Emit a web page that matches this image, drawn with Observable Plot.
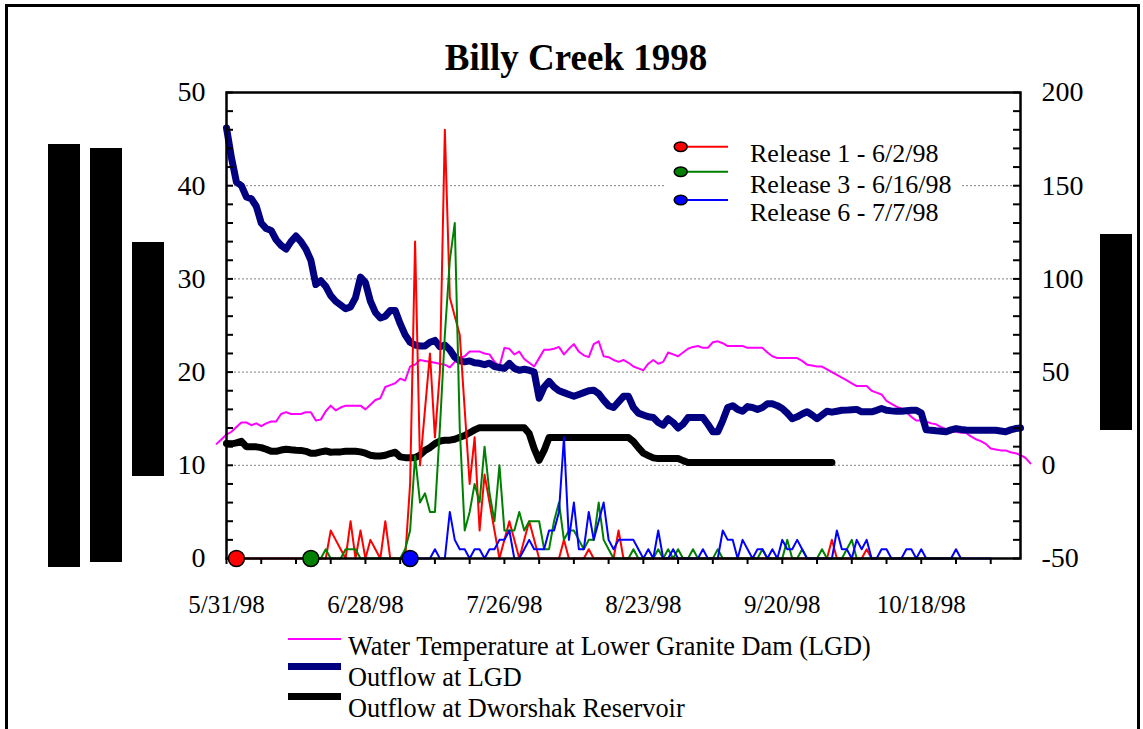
<!DOCTYPE html>
<html>
<head>
<meta charset="utf-8">
<script src="https://cdn.jsdelivr.net/npm/d3@7"></script>
<script src="https://cdn.jsdelivr.net/npm/@observablehq/plot@0.6"></script>
<style>
  body { margin: 0; background: #fff; font-family: "Liberation Serif", "Times New Roman", serif; }
  #wrap { position: relative; width: 1143px; height: 729px; overflow: hidden; background: #fff; }
  #frame { position: absolute; left: 5px; top: 4px; width: 1129px; height: 800px; border: 3px solid #000; box-sizing: content-box; }
  #chart { position: absolute; left: 0; top: 0; }
  .bar { position: absolute; background: #000; }
  #title { position: absolute; left: 0; width: 1152px; top: 39px; text-align: center; font-weight: bold; font-size: 37px; line-height: 37px; }
  .leg { position: absolute; left: 348px; font-size: 26.3px; line-height: 26px; white-space: nowrap; }
  .sw { position: absolute; left: 288px; width: 53px; }
  #inlegend { position: absolute; left: 660px; top: 130px; }
</style>
</head>
<body>
<div id="wrap">
  <div id="frame"></div>
  <div id="chart"></div>
  <div id="title">Billy Creek 1998</div>
  <div class="bar" style="left:48px;top:144px;width:32px;height:423px"></div>
  <div class="bar" style="left:90px;top:148px;width:32px;height:414px"></div>
  <div class="bar" style="left:132px;top:242px;width:32px;height:234px"></div>
  <div class="bar" style="left:1100px;top:234px;width:32px;height:196px"></div>
  <div class="sw" style="top:638px;height:2px;background:#ff00ff"></div>
  <div class="sw" style="top:663px;height:7px;background:#000080"></div>
  <div class="sw" style="top:693px;height:7px;background:#000"></div>
  <div class="leg" style="top:634px">Water Temperature at Lower Granite Dam (LGD)</div>
  <div class="leg" style="top:665px">Outflow at LGD</div>
  <div class="leg" style="top:696px">Outflow at Dworshak Reservoir</div>
  <svg id="inlegend" width="310" height="100"></svg>
</div>
<script>
// ---------------- data ----------------
const xDomain = ["1998-05-31", "1998-11-07"];
const xLabelDates = ["1998-05-31", "1998-06-28", "1998-07-26", "1998-08-23", "1998-09-20", "1998-10-18"];
const xLabels = ["5/31/98", "6/28/98", "7/26/98", "8/23/98", "9/20/98", "10/18/98"];
const leftTickValues = [0, 10, 20, 30, 40, 50];
const rightTickLabels = ["-50", "0", "50", "100", "150", "200"];
const gridValues = [10, 20, 30, 40];

// Water temperature at LGD (left axis), daily from 5/29/98
const tempStart = "1998-05-29";
const waterTemp = [
  12.3, 12.8,
  13.3, 13.6, 14.1, 14.6, 14.6, 14.3, 14.5, 14.2, 14.5, 14.7,
  14.7, 15.5, 15.7, 15.5, 15.5, 15.5, 15.7, 15.7, 14.8, 14.9,
  15.8, 16.4, 15.9, 16.2, 16.4, 16.4, 16.4, 16.4, 16.0, 16.5,
  17.0, 17.2, 18.4, 18.6, 18.8, 19.3, 19.1, 20.6, 20.8, 21.3,
  21.2, 21.1, 21.0, 20.9, 20.8, 20.5, 21.1, 21.5, 21.7, 22.2,
  22.2, 22.2, 22.0, 21.9, 21.1, 20.6, 22.6, 22.5, 21.9, 22.2,
  21.4, 21.0, 20.6, 21.5, 22.4, 22.4, 22.5, 22.7, 21.9, 22.5,
  23.0, 22.2, 21.8, 21.6, 23.0, 23.3, 21.7, 21.6, 21.3, 21.1,
  21.3, 21.0, 20.6, 20.4, 20.2, 20.9, 21.3, 20.9, 21.1, 22.1,
  21.9, 21.7, 22.1, 22.5, 22.7, 22.8, 22.6, 22.6, 23.2, 23.3,
  23.1, 22.8, 22.8, 22.8, 22.8, 22.6, 22.6, 22.6, 22.6, 22.1,
  21.7, 21.5, 21.5, 21.5, 21.5, 21.5, 21.2, 20.8, 20.7, 20.6,
  20.6, 20.3, 20.0, 19.7, 19.4, 19.1, 18.8, 18.5, 18.5, 18.5,
  18.0, 17.8, 17.6, 16.9, 16.6, 16.3, 16.1, 15.7, 15.2, 14.8,
  14.8, 14.7, 14.5, 14.4, 14.1, 13.9, 13.6, 13.6, 13.5, 13.5,
  13.1, 12.8, 12.6, 12.3, 11.8, 11.7, 11.6, 11.6, 11.4, 11.3,
  11.1, 10.8, 10.2
];

// Outflow at LGD (kcfs, right axis), daily from 5/31/98
const lgdStart = "1998-05-31";
const lgdOutflow = [
  181, 165, 152, 150, 144, 143, 139, 130, 127, 126,
  121, 118, 116, 120, 123, 120, 116, 110, 97, 99,
  96, 91, 88, 86, 84, 85, 90, 101, 98, 88,
  82, 79, 80, 83, 83, 76, 70, 66, 64.5, 64,
  64, 66, 67, 63.6, 64.5, 62, 58, 56, 55.5, 56,
  55, 54.7, 54, 54.8, 53, 52.5, 52, 54.7, 52, 51,
  51.5, 51, 50, 36, 42, 45, 42, 40, 39, 38,
  37, 38, 39, 40, 40.3, 38.5, 35, 32, 31, 34,
  37, 37, 31, 28, 27, 26, 25.6, 23, 21.5, 25,
  23, 20, 22, 25.6, 25.6, 25.6, 25.6, 22, 18, 18,
  24, 31, 32, 30, 29, 31.5, 31, 30, 31, 33,
  33, 32, 30.5, 28, 25, 26, 27.5, 28.7, 27, 25,
  27, 29, 28.5, 29, 29.5, 29.6, 29.8, 30, 28.7, 28.7,
  28.7, 29.5, 30.5, 29.5, 29.2, 29, 29, 29.3, 29.5, 29.6,
  28, 19, 18.8, 18.5, 18.3, 18, 19, 19.7, 19.2, 18.9,
  18.8, 18.8, 18.8, 18.8, 18.8, 18.8, 18.4, 18, 19, 19.7, 20
];

// Outflow at Dworshak Reservoir (kcfs, right axis), daily from 5/31/98
const dworStart = "1998-05-31";
const dworOutflow = [
  11.7, 11.5, 12, 12.9, 10, 10, 9.9, 9.5, 8.6, 7.5,
  7.5, 8.2, 8.6, 8.3, 8.1, 8, 7.5, 6.5, 6.5, 7.2,
  7.7, 7, 7.2, 7.2, 7.5, 7.5, 7.5, 7.2, 6.5, 5.4,
  5, 5, 5.4, 6.3, 7, 4.5, 4.1, 4.1, 4.1, 5.5,
  8, 9.5, 11.6, 13, 13.4, 13.5, 14, 15, 16, 17.5,
  19, 20.2, 20.2, 20.2, 20.2, 20.2, 20.2, 20.2, 20.2, 20.2,
  20.2, 17, 9, 2.7, 8, 14.9, 14.9, 14.9, 14.9, 14.9,
  14.9, 14.9, 14.9, 14.9, 14.9, 14.9, 14.9, 14.9, 14.9, 14.9,
  14.9, 14.9, 12.8, 9.5, 6.5, 5.2, 4, 3.6, 3.6, 3.6,
  3.6, 3.6, 2.5, 1.5, 1.5, 1.5, 1.5, 1.5, 1.5, 1.5,
  1.5, 1.5, 1.5, 1.5, 1.5, 1.5, 1.5, 1.5, 1.5, 1.5,
  1.5, 1.5, 1.5, 1.5, 1.5, 1.5, 1.5, 1.5, 1.5, 1.5,
  1.5, 1.5, 1.5
];

// Release 1 - 6/2/98 (left axis), daily from 6/2/98
const rel1Start = "1998-06-02";
const release1 = [
  0, 0, 0, 0, 0, 0, 0, 0, 0, 0, 0, 0, 0, 0, 0, 0, 0, 0, 0,
  3, 2, 1, 0, 4, 0, 3, 0, 2, 1,
  0, 4, 0, 0, 0, 0, 8, 34, 10, 16,
  22, 13, 20, 46, 28, 26, 24, 16, 8, 13,
  3, 9, 6, 3, 0, 2, 4, 2, 0, 2,
  4, 2, 0, 0, 0, 0, 0, 2, 0, 0,
  0, 0, 1, 0, 0, 0, 0, 0, 3, 0,
  0, 0, 0, 0, 0, 0, 0, 0, 0, 0,
  0, 0, 0, 0, 0, 0, 0, 0, 0, 0,
  0, 0, 0, 0, 0, 0, 0, 0, 0, 0,
  0, 0, 0, 0, 0, 0, 0, 0, 0, 0,
  0, 2, 0, 0, 0, 0, 0, 0, 1, 0,
  0, 0, 0, 0, 0, 0, 0, 0, 0, 0,
  0, 0, 0, 0, 0
];

// Release 3 - 6/16/98 (left axis), daily from 6/17/98
const rel3Start = "1998-06-17";
const release3 = [
  0, 0, 0,
  1, 0, 0, 0, 1, 1, 1, 0, 0, 0,
  0, 0, 0, 0, 0, 0, 1, 3, 11, 6,
  7, 5, 5, 14, 24, 32, 36, 14, 3, 5,
  8, 6, 12, 7, 4, 10, 3, 3, 3, 5,
  3, 4, 4, 4, 1, 1, 4, 6, 2, 3,
  3, 2, 1, 2, 2, 6, 2, 1, 0, 0,
  0, 0, 1, 0, 0, 0, 0, 1, 0, 1,
  0, 1, 0, 0, 1, 0, 0, 0, 0, 1,
  0, 0, 0, 0, 0, 0, 0, 0, 1, 0,
  0, 0, 0, 2, 0, 0, 1, 0, 0, 0,
  1, 0, 0, 0, 0, 1, 2, 0, 0, 0,
  0, 0, 0, 0, 0, 0, 0, 0, 0, 0,
  0, 0, 0, 0, 0, 0, 0, 0
];

// Release 6 - 7/7/98 (left axis), daily from 7/7/98
const rel6Start = "1998-07-07";
const release6 = [
  0, 0, 0, 0, 0, 1, 0, 0, 5, 2, 1, 1, 0,
  1, 1, 0, 1, 1, 2, 2, 3, 0, 0,
  1, 2, 1, 1, 1, 3, 3, 5, 13, 2,
  6, 1, 1, 5, 2, 4, 6, 2, 1, 2,
  2, 2, 2, 1, 0, 1, 0, 3, 0, 0,
  1, 0, 0, 0, 0, 0, 1, 0, 0, 0,
  3, 2, 2, 0, 2, 1, 0, 1, 1, 0,
  1, 0, 2, 1, 1, 2, 1, 0, 0, 0,
  0, 0, 0, 3, 1, 1, 0, 2, 1, 2,
  0, 0, 1, 1, 0, 0, 0, 1, 1, 0,
  1, 0, 0, 0, 0, 0, 0, 1, 0, 0,
  0, 0, 0, 0, 0
];

const releaseNames = ["Release 1 - 6/2/98", "Release 3 - 6/16/98", "Release 6 - 7/7/98"];
const releaseColors = ["#ff0000", "#008000", "#0000ff"];
const releaseMarkerDates = ["1998-06-02", "1998-06-17", "1998-07-07"];

// ---------------- build ----------------
const toDate = s => new Date(s + "T00:00:00Z");
const rows = (start, vals) => vals.map((v, i) => ({date: d3.utcDay.offset(toDate(start), i), v}));
const toLeft = v => v / 5 + 10; // right axis (-50..200) onto left axis (0..50)

const tempRows = rows(tempStart, waterTemp);
const lgdRows = rows(lgdStart, lgdOutflow);
const dworRows = rows(dworStart, dworOutflow);
const relRows = [rows(rel1Start, release1), rows(rel3Start, release3), rows(rel6Start, release6)];

const W = 1143, H = 729, mL = 226, mR = 123, mT = 92, mB = 171;
const innerW = W - mL - mR;
const x0 = toDate(xDomain[0]), x1 = toDate(xDomain[1]);
const weekTicks = d3.utcSunday.range(x0, d3.utcDay.offset(x1, 1));
const labelMap = new Map(xLabelDates.map((d, i) => [+toDate(d), xLabels[i]]));
const minorY = d3.range(0, 51, 2);

const chart = Plot.plot({
  width: W, height: H,
  marginLeft: mL, marginRight: mR, marginTop: mT, marginBottom: mB,
  style: {fontFamily: "'Liberation Serif', 'Times New Roman', serif", fontSize: "28px", color: "#000", background: "transparent", overflow: "visible"},
  x: {type: "utc", domain: [x0, x1]},
  y: {domain: [0, 50]},
  marks: [
    Plot.ruleY(gridValues, {stroke: "#808080", strokeDasharray: "2,2", strokeWidth: 1}),
    Plot.line(tempRows, {x: "date", y: "v", stroke: "#ff00ff", strokeWidth: 2}),
    Plot.line(lgdRows, {x: "date", y: d => toLeft(d.v), stroke: "#000080", strokeWidth: 7}),
    Plot.line(dworRows, {x: "date", y: d => toLeft(d.v), stroke: "#000000", strokeWidth: 7}),
    ...relRows.map((r, i) => Plot.line(r, {x: "date", y: "v", stroke: releaseColors[i], strokeWidth: 2})),
    Plot.frame({stroke: "#000", strokeWidth: 2.5}),
    Plot.tickY(minorY, {y: d => d, insetRight: innerW - 7, stroke: "#000", strokeWidth: 2}),
    Plot.tickY(minorY, {y: d => d, insetLeft: innerW - 7, stroke: "#000", strokeWidth: 2}),
    Plot.axisY({ticks: leftTickValues, tickSize: 0, tickPadding: 21, fontSize: 28, label: null}),
    Plot.axisY({anchor: "right", ticks: leftTickValues, tickSize: 0, tickPadding: 21, fontSize: 28, label: null,
      tickFormat: d => rightTickLabels[leftTickValues.indexOf(d)]}),
    Plot.axisX({ticks: weekTicks, tickSize: 6, tickPadding: 31, fontSize: 25, label: null, strokeWidth: 2,
      tickFormat: d => labelMap.get(+d) || ""}),
    ...releaseMarkerDates.map((d, i) => Plot.dot([{date: toDate(d), v: 0}], {x: "date", y: "v", r: 8, fill: releaseColors[i], stroke: "#000", strokeWidth: 1.5}))
  ]
});
document.getElementById("chart").appendChild(chart);

// in-plot legend
const leg = d3.select("#inlegend");
leg.append("rect").attr("x", 6).attr("y", 4).attr("width", 294).attr("height", 94).attr("fill", "#fff");
const legLineY = [16.7, 41.7, 70];
const legTextY = [31.7, 63.3, 90.7];
releaseNames.forEach((name, i) => {
  leg.append("line").attr("x1", 22).attr("x2", 68).attr("y1", legLineY[i]).attr("y2", legLineY[i])
    .attr("stroke", releaseColors[i]).attr("stroke-width", 2);
  leg.append("ellipse").attr("cx", 20.7).attr("cy", legLineY[i]).attr("rx", 6.5).attr("ry", 4.7)
    .attr("fill", releaseColors[i]).attr("stroke", "#000").attr("stroke-width", 1.5);
  leg.append("text").attr("x", 90).attr("y", legTextY[i]).text(name)
    .attr("font-family", "'Liberation Serif', 'Times New Roman', serif").attr("font-size", 26);
});
</script>
</body>
</html>
